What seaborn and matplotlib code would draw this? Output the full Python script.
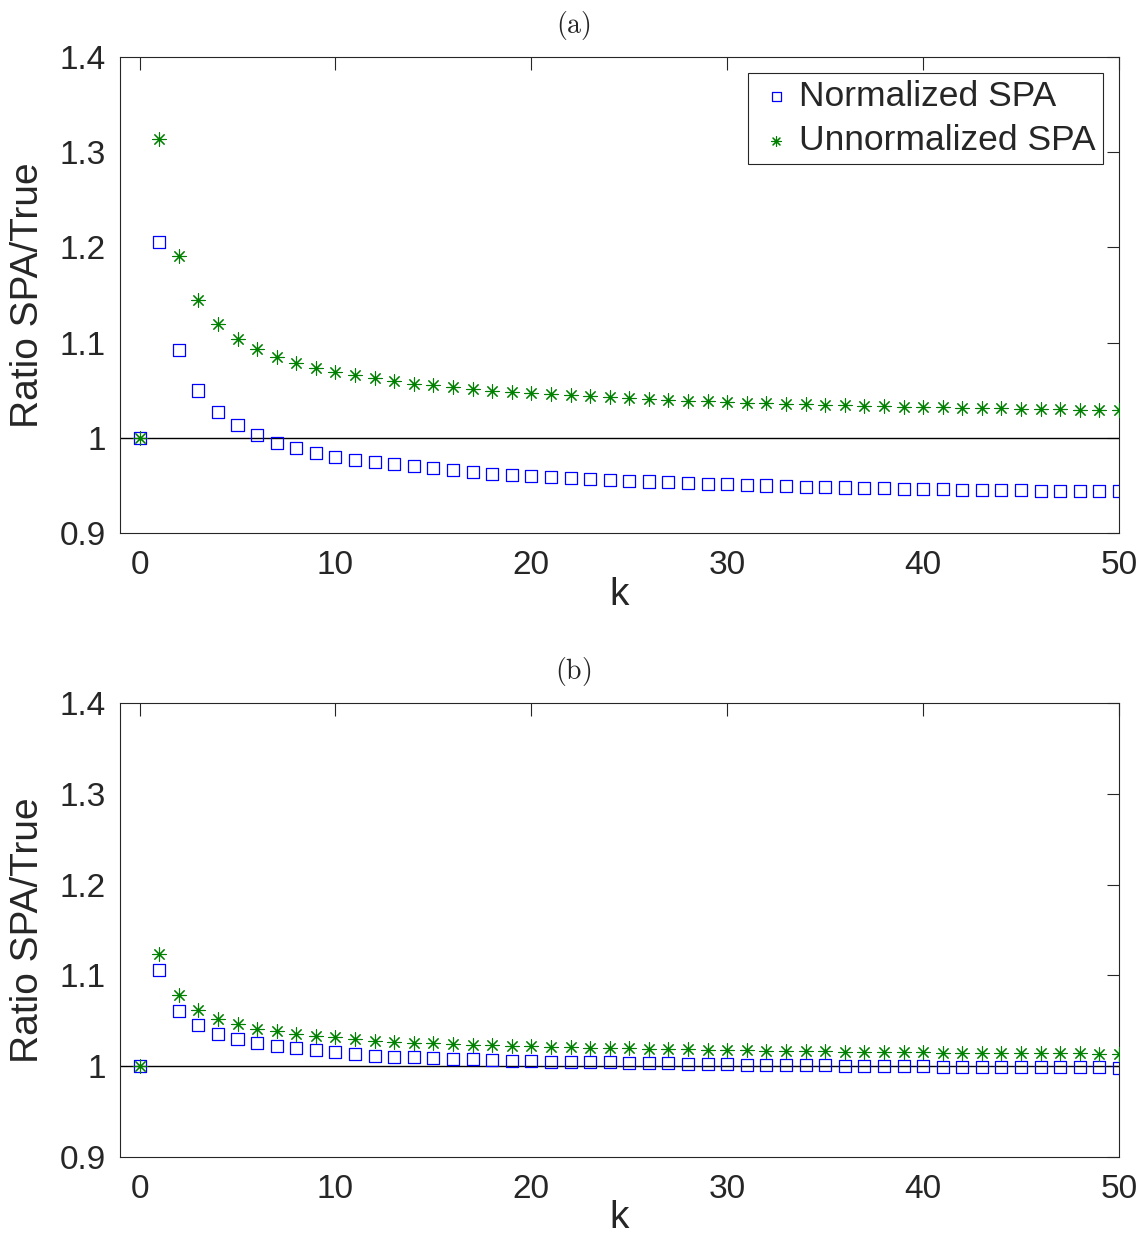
import numpy as np
import pandas as pd
import seaborn as sns
import matplotlib.pyplot as plt

# k values shared by both panels
k = list(range(51))

# panel (a)
norm_a = [1.0, 1.2056, 1.092, 1.0497, 1.0273, 1.013, 1.003, 0.9948, 0.989, 0.984,
          0.980, 0.977, 0.9742, 0.972, 0.970, 0.968, 0.966, 0.9645, 0.9625, 0.9608,
          0.9597, 0.9587, 0.9577, 0.9567, 0.9558, 0.9549, 0.9541, 0.9533, 0.9525, 0.9518,
          0.9511, 0.9505, 0.9499, 0.9493, 0.9488, 0.9483, 0.9478, 0.9474, 0.9470, 0.9466,
          0.9462, 0.9459, 0.9456, 0.9453, 0.9450, 0.9448, 0.9446, 0.9444, 0.9442, 0.9441,
          0.9440]
unnorm_a = [1.0, 1.314, 1.191, 1.1445, 1.1197, 1.104, 1.093, 1.085, 1.0785, 1.0735,
            1.0687, 1.0655, 1.0624, 1.0595, 1.057, 1.055, 1.053, 1.051, 1.049, 1.0476,
            1.0466, 1.0455, 1.0445, 1.0434, 1.0424, 1.0413, 1.0403, 1.0396, 1.0389, 1.0382,
            1.0375, 1.0368, 1.0361, 1.0357, 1.0350, 1.0347, 1.0340, 1.0336, 1.0333, 1.0326,
            1.0322, 1.0319, 1.0315, 1.0312, 1.0308, 1.0305, 1.0301, 1.0298, 1.0294, 1.0292,
            1.0291]

# panel (b)
norm_b = [1.0, 1.1057, 1.0613, 1.0452, 1.0356, 1.0301, 1.0253, 1.0224, 1.0195, 1.0173,
          1.0151, 1.0132, 1.0117, 1.0106, 1.0099, 1.0092, 1.0084, 1.0077, 1.007, 1.0062,
          1.0055, 1.0051, 1.0048, 1.0045, 1.0042, 1.0038, 1.0034, 1.0030, 1.0027, 1.0024,
          1.0021, 1.0018, 1.0015, 1.0012, 1.0010, 1.0008, 1.0006, 1.0004, 1.0002, 1.0000,
          0.9998, 0.9996, 0.9994, 0.9992, 0.9991, 0.9990, 0.9989, 0.9988, 0.9987, 0.9986,
          0.9985]
unnorm_b = [1.0, 1.1233, 1.0782, 1.0617, 1.0525, 1.0463, 1.0415, 1.0385, 1.0356, 1.0334,
            1.0316, 1.0297, 1.0279, 1.0264, 1.0257, 1.025, 1.0242, 1.0235, 1.0228, 1.0224,
            1.0217, 1.0213, 1.0206, 1.0203, 1.0200, 1.0196, 1.0192, 1.0188, 1.0184, 1.0180,
            1.0177, 1.0174, 1.0171, 1.0168, 1.0165, 1.0162, 1.0159, 1.0157, 1.0155, 1.0153,
            1.0151, 1.0149, 1.0147, 1.0145, 1.0144, 1.0143, 1.0142, 1.0141, 1.0140, 1.0139,
            1.0138]

labels = ['Normalized SPA', 'Unnormalized SPA']
yticks = [0.9, 1.0, 1.1, 1.2, 1.3, 1.4]
ytick_labels = ['0.9', '1', '1.1', '1.2', '1.3', '1.4']
xticks = [0, 10, 20, 30, 40, 50]

sns.set_theme(style='white')
plt.rcParams['font.family'] = ['Liberation Sans', 'DejaVu Sans']
plt.rcParams['mathtext.fontset'] = 'cm'

fig = plt.figure(figsize=(11.47, 12.39), dpi=100)
ax_a = fig.add_axes([0.1046, 0.5698, 0.871, 0.3842])
ax_b = fig.add_axes([0.1046, 0.0662, 0.871, 0.3664])

dark = '#262626'


def draw_panel(ax, norm, unnorm, legend):
    df = pd.DataFrame({'k': k, 'norm': norm, 'unnorm': unnorm})
    ax.axhline(1.0, color='black', lw=1.0, zorder=1)
    sns.scatterplot(data=df, x='k', y='norm', marker='s', s=75, facecolor='none',
                    edgecolor='#0000ff', linewidth=0.9, ax=ax, label=labels[0], zorder=3)
    sns.scatterplot(data=df, x='k', y='unnorm', marker=(8, 2, 0), s=90, color='#008000',
                    edgecolor='#008000', linewidth=0.8, ax=ax, label=labels[1], zorder=3)
    ax.set_xlim(-1, 50)
    ax.set_ylim(0.9, 1.4)
    ax.set_xticks(xticks)
    ax.set_yticks(yticks)
    ax.set_yticklabels(ytick_labels)
    ax.tick_params(direction='in', length=9, width=0.8, color=dark, labelcolor=dark,
                   labelsize=24, top=True, right=True)
    ax.tick_params(axis='x', pad=12)
    ax.tick_params(axis='y', pad=10)
    ax.set_xlabel('k', fontsize=28, color=dark, labelpad=-3)
    ax.set_ylabel('Ratio SPA/True', fontsize=28, color=dark, labelpad=10)
    for sp in ax.spines.values():
        sp.set_color(dark)
        sp.set_linewidth(0.8)
    if legend:
        leg = ax.legend(loc='upper right', fontsize=25.5, frameon=True, fancybox=False,
                        framealpha=1, edgecolor=dark, borderpad=0.2, handletextpad=0.05,
                        handlelength=1.2, labelspacing=0.32, borderaxespad=0.45,
                        markerscale=0.75)
        leg.get_frame().set_linewidth(0.8)
    else:
        leg = ax.get_legend()
        if leg is not None:
            leg.remove()


draw_panel(ax_a, norm_a, unnorm_a, True)
draw_panel(ax_b, norm_b, unnorm_b, False)

fig.text(0.5, 1 - 25 / 1239, r'$\mathrm{(a)}$', ha='center', va='center', fontsize=20)
fig.text(0.5, 1 - 671 / 1239, r'$\mathrm{(b)}$', ha='center', va='center', fontsize=20)

plt.savefig('out.png', dpi=100)
plt.close()
